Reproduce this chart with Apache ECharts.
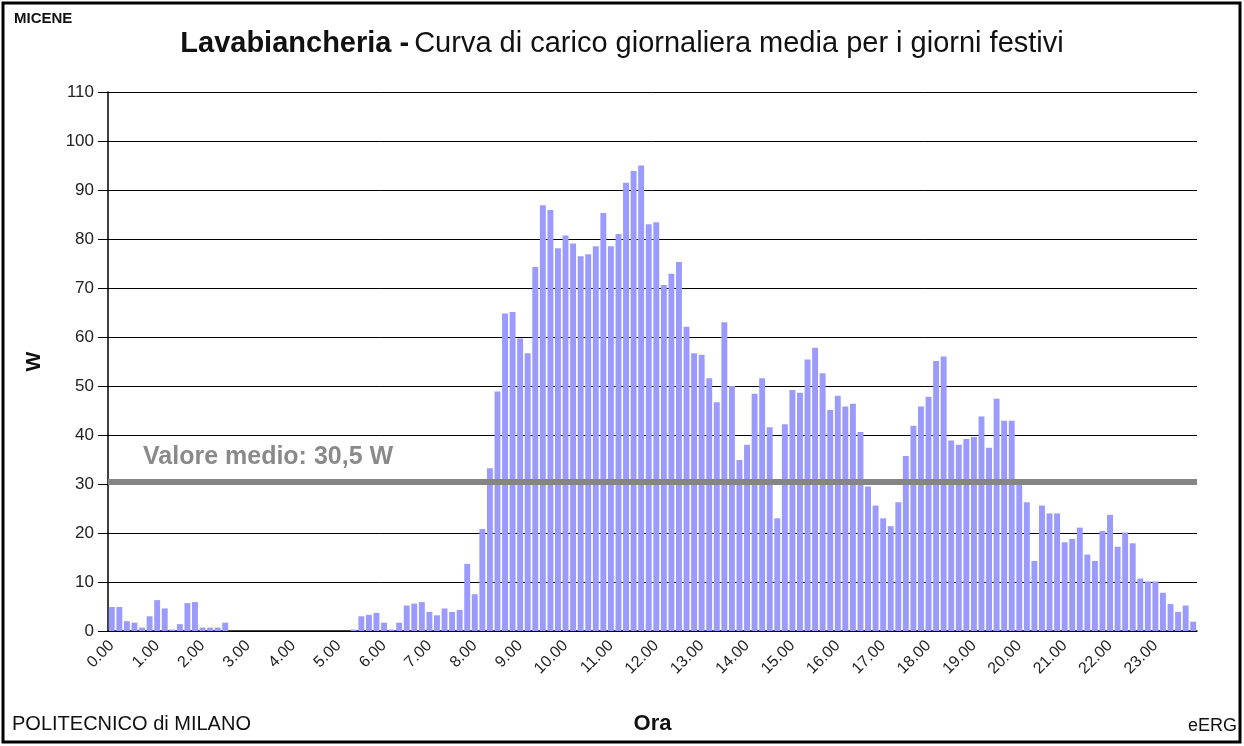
<!DOCTYPE html>
<html>
<head>
<meta charset="utf-8">
<script src="https://cdn.jsdelivr.net/npm/echarts@6/dist/echarts.min.js"></script>
<style>
  html, body { margin: 0; padding: 0; background: #fff; }
  #chart { width: 1244px; height: 746px; }
</style>
</head>
<body>
<div id="chart"></div>
<script>
// ore del giorno (etichette dell'asse x), 6 intervalli di 10 minuti per ora
var hourLabels = ['0.00','1.00','2.00','3.00','4.00','5.00','6.00','7.00','8.00','9.00','10.00','11.00',
  '12.00','13.00','14.00','15.00','16.00','17.00','18.00','19.00','20.00','21.00','22.00','23.00'];
var stepsPerHour = 6;

// potenza media ogni 10 minuti [W]
var powerValues = [
  4.9, 4.9, 2.0, 1.7, 0.7, 3.0,   6.3, 4.6, 0.3, 1.4, 5.7, 5.9,
  0.7, 0.7, 0.7, 1.7, 0, 0,       0, 0, 0, 0, 0, 0,
  0, 0, 0, 0, 0, 0,               0, 0, 0.3, 3.0, 3.3, 3.7,
  1.7, 0.3, 1.7, 5.2, 5.6, 5.9,   3.9, 3.2, 4.6, 3.9, 4.3, 13.7,
  7.5, 20.8, 33.2, 48.9, 64.8, 65.1,   59.7, 56.7, 74.3, 86.9, 85.9, 78.1,
  80.7, 79.1, 76.5, 76.9, 78.5, 85.3,  78.5, 81.0, 91.5, 93.9, 95.0, 83.0,
  83.4, 70.6, 72.9, 75.3, 62.1, 56.7,  56.4, 51.6, 46.7, 63.0, 50.0, 34.9,
  38.0, 48.4, 51.6, 41.6, 23.0, 42.2,  49.2, 48.6, 55.4, 57.8, 52.6, 45.1,
  48.0, 45.8, 46.4, 40.6, 29.5, 25.6,  23.0, 21.4, 26.3, 35.7, 41.9, 45.8,
  47.8, 55.1, 56.0, 38.9, 38.0, 39.2,  39.6, 43.8, 37.4, 47.4, 42.9, 42.9,
  30.0, 26.3, 14.3, 25.6, 24.0, 24.0,  18.1, 18.8, 21.1, 15.6, 14.3, 20.4,
  23.7, 17.2, 20.1, 17.9, 10.7, 10.1,  10.1, 7.8, 5.5, 3.9, 5.2, 1.9
];
var meanValue = 30.5;
var meanLabel = 'Valore medio: 30,5 W';
var yTicks = [0, 110, 10]; // min, max, passo

var categories = [];
for (var h = 0; h < hourLabels.length; h++) {
  for (var s = 0; s < stepsPerHour; s++) {
    categories.push(s === 0 ? hourLabels[h] : h + '.' + s + '0');
  }
}

var chart = echarts.init(document.getElementById('chart'));
var font = 'Liberation Sans, Arial, sans-serif';

var option = {
  animation: false,
  backgroundColor: '#fff',
  textStyle: { fontFamily: font },
  title: {
    left: 'center',
    top: 24,
    text: '{b|Lavabiancheria -} {n|Curva di carico giornaliera media per i giorni festivi}',
    textStyle: {
      rich: {
        b: { fontFamily: font, fontSize: 29, fontWeight: 'bold', color: '#111' },
        n: { fontFamily: font, fontSize: 29, fontWeight: 'normal', color: '#111' }
      }
    }
  },
  graphic: [
    { type: 'rect', shape: { x: 3, y: 3, width: 1237, height: 739 },
      style: { fill: 'none', stroke: '#000', lineWidth: 3 } },
    { type: 'text', left: 14, top: 11,
      style: { text: 'MICENE', font: 'bold 15px ' + font, fill: '#111' } },
    { type: 'text', left: 12, top: 714,
      style: { text: 'POLITECNICO di MILANO', font: '20px ' + font, fill: '#111' } },
    { type: 'text', right: 7, top: 717,
      style: { text: 'eERG', font: '18px ' + font, fill: '#111' } }
  ],
  grid: { left: 108, right: 47, top: 92, bottom: 115 },
  xAxis: {
    type: 'category',
    data: categories,
    name: 'Ora',
    nameLocation: 'middle',
    nameGap: 82,
    nameTextStyle: { fontFamily: font, fontSize: 22, fontWeight: 'bold', color: '#111' },
    axisLine: { lineStyle: { color: '#000', width: 1.5 } },
    axisTick: { interval: stepsPerHour - 1, length: 8, lineStyle: { color: '#000' } },
    axisLabel: {
      interval: stepsPerHour - 1,
      rotate: 45,
      margin: 12,
      fontFamily: font,
      fontSize: 16,
      color: '#222'
    }
  },
  yAxis: {
    type: 'value',
    min: yTicks[0],
    max: yTicks[1],
    interval: yTicks[2],
    name: 'W',
    nameLocation: 'middle',
    nameGap: 63,
    nameRotate: 90,
    nameTextStyle: { fontFamily: font, fontSize: 21, fontWeight: 'bold', color: '#111' },
    axisLine: { show: true, lineStyle: { color: '#000', width: 1.5 } },
    axisTick: { show: true, length: 10, lineStyle: { color: '#000' } },
    axisLabel: { fontFamily: font, fontSize: 17, color: '#222', margin: 14 },
    splitLine: { lineStyle: { color: '#000', width: 1 } }
  },
  series: [{
    type: 'bar',
    data: powerValues,
    barCategoryGap: '22%',
    itemStyle: { color: '#9a9aff' },
    markLine: {
      silent: true,
      symbol: 'none',
      data: [{ yAxis: meanValue }],
      lineStyle: { color: '#858585', width: 6, type: 'solid' },
      label: {
        show: true,
        position: 'insideStartTop',
        formatter: meanLabel,
        distance: [35, 12],
        fontFamily: font,
        fontSize: 25,
        fontWeight: 'bold',
        color: '#8a8a8a'
      }
    }
  }]
};

chart.setOption(option);
</script>
</body>
</html>
